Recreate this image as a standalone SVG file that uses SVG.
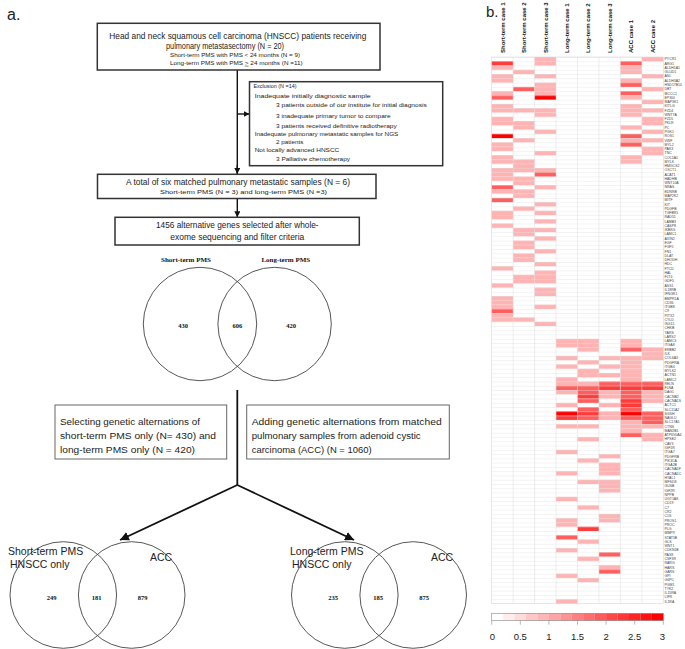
<svg xmlns="http://www.w3.org/2000/svg" width="685" height="649" viewBox="0 0 685 649">
<style>
.box{fill:#fff;stroke:#333;stroke-width:1.5}
.box2{fill:#fff;stroke:#666;stroke-width:1}
.t{font-family:"Liberation Sans",Arial,sans-serif;fill:#222}
.s{font-family:"Liberation Serif","Times New Roman",serif;font-weight:bold;fill:#111}
.ven{fill:none;stroke:#444;stroke-width:0.9}
.con{stroke:#111;stroke-width:1.4;fill:none}
.con2{stroke:#111;stroke-width:1.8;fill:none}
.hm rect{width:21.45px;height:4.27px}
.p{fill:#ffb3b3}.m{fill:#ff5e5e}.r{fill:#ff3c3c}.x{fill:#ff0000}
.gl{font-family:"Liberation Sans",Arial,sans-serif;font-size:3.5px;fill:#444}
.ch{font-family:"Liberation Sans",Arial,sans-serif;font-size:6px;font-weight:bold;fill:#111}
</style>
<defs>
<marker id="ah" viewBox="0 0 10 10" refX="10" refY="5" markerUnits="userSpaceOnUse" markerWidth="6" markerHeight="6" orient="auto"><path d="M0,0 L10,5 L0,10 z" fill="#111"/></marker>
<marker id="ah2" viewBox="0 0 10 10" refX="10" refY="5" markerUnits="userSpaceOnUse" markerWidth="9" markerHeight="9" orient="auto"><path d="M0,0 L10,5 L0,10 z" fill="#111"/></marker>
<pattern id="hg" patternUnits="userSpaceOnUse" x="0" y="57" width="200" height="4.27"><rect width="200" height="0.4" fill="#dcdcdc"/></pattern>
</defs>
<rect width="685" height="649" fill="#fff"/>

<text class="t" x="7" y="20" font-size="16">a.</text>
<text class="t" x="486" y="17" font-size="15">b.</text>

<g id="connectors">
<line class="con" x1="237.3" y1="70" x2="237.3" y2="174"/>
<line class="con" x1="237.3" y1="114" x2="249.5" y2="114" marker-end="url(#ah)"/>
<line class="con" x1="237.3" y1="165" x2="237.3" y2="174" marker-end="url(#ah)"/>
<line class="con" x1="237.3" y1="198.5" x2="237.3" y2="217.3" marker-end="url(#ah)"/>
<line class="con2" x1="237.3" y1="390" x2="237.3" y2="485"/>
<line class="con2" x1="237.3" y1="485" x2="120" y2="540" marker-end="url(#ah2)"/>
<line class="con2" x1="237.3" y1="485" x2="354" y2="540" marker-end="url(#ah2)"/>
</g>

<g id="box1">
<rect class="box" x="97.3" y="23.3" width="282.7" height="46.7"/>
<text class="t" x="109.3" y="38.5" font-size="8.8" textLength="257" lengthAdjust="spacingAndGlyphs">Head and neck squamous cell carcinoma (HNSCC) patients receiving</text>
<text class="t" x="166" y="48.8" font-size="8.8" textLength="118" lengthAdjust="spacingAndGlyphs">pulmonary metastasectomy  (N = 20)</text>
<text class="t" x="170" y="57.2" font-size="5.6" textLength="130" lengthAdjust="spacingAndGlyphs">Short-term PMS with PMS &lt; 24 months (N = 9)</text>
<text class="t" x="170" y="64.8" font-size="5.6" textLength="132.7" lengthAdjust="spacingAndGlyphs">Long-term PMS with PMS <tspan text-decoration="underline">&gt;</tspan> 24 months (N =11)</text>
</g>

<g id="exclusion">
<rect class="box" x="249.5" y="81.7" width="193.2" height="84"/>
<text class="t" x="253.5" y="88" font-size="6" textLength="43" lengthAdjust="spacingAndGlyphs">Exclusion (N =14)</text>
<text class="t" x="254.7" y="97.5" font-size="6" textLength="116" lengthAdjust="spacingAndGlyphs">Inadequate initially diagnostic sample</text>
<text class="t" x="276" y="107" font-size="6" textLength="150.7" lengthAdjust="spacingAndGlyphs">3 patients outside of our institute for initial diagnosis</text>
<text class="t" x="276" y="117.5" font-size="6" textLength="114.7" lengthAdjust="spacingAndGlyphs">3 inadequate primary tumor to compare</text>
<text class="t" x="276" y="127.5" font-size="6" textLength="120.7" lengthAdjust="spacingAndGlyphs">3 patients received definitive radiotherapy</text>
<text class="t" x="254.7" y="135.5" font-size="6" textLength="143.6" lengthAdjust="spacingAndGlyphs">Inadequate pulmonary metastatic samples for NGS</text>
<text class="t" x="276" y="144" font-size="6" textLength="27.3" lengthAdjust="spacingAndGlyphs">2 patients</text>
<text class="t" x="254.7" y="152" font-size="6" textLength="84.6" lengthAdjust="spacingAndGlyphs">Not locally advanced HNSCC</text>
<text class="t" x="276" y="161" font-size="6" textLength="74" lengthAdjust="spacingAndGlyphs">3 Palliative chemotherapy</text>
</g>

<g id="box3">
<rect class="box" x="97.5" y="174.3" width="278.5" height="24.2"/>
<text class="t" x="126" y="185" font-size="8.8" textLength="224" lengthAdjust="spacingAndGlyphs">A total of six matched pulmonary metastatic samples (N = 6)</text>
<text class="t" x="160" y="193.8" font-size="6.2" textLength="167" lengthAdjust="spacingAndGlyphs">Short-term PMS (N = 3) and long-term PMS  (N =3)</text>
</g>

<g id="box4">
<rect class="box" x="115" y="217.3" width="244.3" height="27.7"/>
<text class="t" x="237.3" y="227.8" font-size="8.8" text-anchor="middle" textLength="162.6" lengthAdjust="spacingAndGlyphs">1456 alternative genes selected after whole-</text>
<text class="t" x="237.3" y="240" font-size="8.8" text-anchor="middle" textLength="134" lengthAdjust="spacingAndGlyphs">exome sequencing and filter criteria</text>
</g>

<g id="venn1">
<text class="s" x="186" y="262" font-size="7" text-anchor="middle">Short-term PMS</text>
<text class="s" x="285.8" y="262" font-size="7" text-anchor="middle">Long-term PMS</text>
<circle class="ven" cx="200" cy="324" r="56.7"/>
<circle class="ven" cx="274.6" cy="324" r="56.7"/>
<text class="s" x="183" y="328" font-size="6.5" text-anchor="middle">430</text>
<text class="s" x="237.3" y="328" font-size="6.5" text-anchor="middle">606</text>
<text class="s" x="291" y="328" font-size="6.5" text-anchor="middle">420</text>
</g>

<g id="selecting">
<rect class="box2" x="55" y="405" width="171.7" height="54"/>
<text class="t" x="60" y="424.5" font-size="9.2" textLength="140" lengthAdjust="spacingAndGlyphs">Selecting genetic alternations of</text>
<text class="t" x="60" y="438.5" font-size="9.2" textLength="156" lengthAdjust="spacingAndGlyphs">short-term PMS only (N= 430) and</text>
<text class="t" x="60" y="452.5" font-size="9.2" textLength="135" lengthAdjust="spacingAndGlyphs">long-term PMS only (N = 420)</text>
</g>

<g id="adding">
<rect class="box2" x="246.7" y="405" width="202.6" height="54"/>
<text class="t" x="251.7" y="424.5" font-size="9.2" textLength="190" lengthAdjust="spacingAndGlyphs">Adding genetic alternations from matched</text>
<text class="t" x="251.7" y="438.5" font-size="9.2" textLength="169" lengthAdjust="spacingAndGlyphs">pulmonary samples from adenoid cystic</text>
<text class="t" x="251.7" y="452.5" font-size="9.2" textLength="120" lengthAdjust="spacingAndGlyphs">carcinoma (ACC) (N = 1060)</text>
</g>

<g id="venn2">
<circle class="ven" cx="63.3" cy="595" r="53.3"/>
<circle class="ven" cx="131.7" cy="595" r="53.3"/>
<text class="t" x="8" y="555" font-size="10.5">Short-term PMS</text>
<text class="t" x="10" y="567.5" font-size="10.5">HNSCC only</text>
<text class="t" x="150" y="561" font-size="10.5">ACC</text>
<text class="s" x="51.7" y="599.5" font-size="6.5" text-anchor="middle">249</text>
<text class="s" x="96.7" y="599.5" font-size="6.5" text-anchor="middle">181</text>
<text class="s" x="142.7" y="599.5" font-size="6.5" text-anchor="middle">879</text>
</g>

<g id="venn3">
<circle class="ven" cx="344.8" cy="595" r="53.3"/>
<circle class="ven" cx="413.2" cy="595" r="53.3"/>
<text class="t" x="290" y="555" font-size="10.5">Long-term PMS</text>
<text class="t" x="292" y="567.5" font-size="10.5">HNSCC only</text>
<text class="t" x="431" y="561" font-size="10.5">ACC</text>
<text class="s" x="333.2" y="599.5" font-size="6.5" text-anchor="middle">235</text>
<text class="s" x="378.2" y="599.5" font-size="6.5" text-anchor="middle">185</text>
<text class="s" x="424.2" y="599.5" font-size="6.5" text-anchor="middle">875</text>
</g>

<g id="heatmap">
<rect x="491.7" y="57" width="171.6" height="546.56" fill="#fff"/>
<g class="hm">
<g transform="translate(491.7 0)">
<rect class="r" y="61.27"/><rect class="p" y="65.54"/><rect class="p" y="74.08"/><rect class="p" y="78.35"/><rect class="p" y="91.16"/><rect class="m" y="95.43"/><rect class="p" y="103.97"/><rect class="p" y="108.24"/><rect class="p" y="116.78"/><rect class="p" y="121.05"/><rect class="x" y="133.86"/><rect class="p" y="142.40"/><rect class="p" y="146.67"/><rect class="p" y="155.21"/><rect class="p" y="159.48"/><rect class="p" y="168.02"/><rect class="p" y="172.29"/><rect class="p" y="176.56"/><rect class="m" y="185.10"/><rect class="p" y="189.37"/><rect class="m" y="197.91"/><rect class="p" y="210.72"/><rect class="p" y="214.99"/><rect class="p" y="223.53"/><rect class="p" y="266.23"/><rect class="p" y="283.31"/><rect class="p" y="296.12"/><rect class="p" y="300.39"/><rect class="p" y="304.66"/><rect class="m" y="308.93"/><rect class="p" y="313.20"/><rect class="p" y="317.47"/>
</g>
<g transform="translate(513.15 0)">
<rect class="p" y="69.81"/><rect class="m" y="86.89"/><rect class="p" y="108.24"/><rect class="p" y="121.05"/><rect class="p" y="125.32"/><rect class="p" y="138.13"/><rect class="p" y="159.48"/><rect class="p" y="163.75"/><rect class="p" y="168.02"/><rect class="p" y="176.56"/><rect class="p" y="180.83"/><rect class="p" y="189.37"/><rect class="p" y="193.64"/><rect class="p" y="206.45"/><rect class="p" y="227.80"/><rect class="p" y="232.07"/><rect class="p" y="240.61"/><rect class="p" y="244.88"/><rect class="p" y="253.42"/><rect class="p" y="257.69"/><rect class="p" y="274.77"/><rect class="p" y="279.04"/><rect class="p" y="317.47"/>
</g>
<g transform="translate(534.6 0)">
<rect class="p" y="57.00"/><rect class="p" y="61.27"/><rect class="p" y="74.08"/><rect class="p" y="82.62"/><rect class="p" y="86.89"/><rect class="p" y="91.16"/><rect class="x" y="95.43"/><rect class="p" y="108.24"/><rect class="p" y="112.51"/><rect class="p" y="129.59"/><rect class="p" y="150.94"/><rect class="p" y="168.02"/><rect class="m" y="172.29"/><rect class="p" y="185.10"/><rect class="p" y="202.18"/><rect class="p" y="210.72"/><rect class="p" y="219.26"/><rect class="p" y="227.80"/><rect class="p" y="236.34"/><rect class="p" y="249.15"/><rect class="p" y="261.96"/><rect class="p" y="270.50"/><rect class="p" y="274.77"/><rect class="p" y="279.04"/><rect class="p" y="287.58"/><rect class="p" y="291.85"/><rect class="p" y="304.66"/><rect class="p" y="321.74"/>
</g>
<g transform="translate(556.05 0)">
<rect class="p" y="338.82"/><rect class="p" y="343.09"/><rect class="p" y="355.90"/><rect class="p" y="364.44"/><rect class="p" y="377.25"/><rect class="p" y="381.52"/><rect class="m" y="385.79"/><rect class="p" y="390.06"/><rect class="p" y="402.87"/><rect class="x" y="411.41"/><rect class="r" y="415.68"/><rect class="p" y="424.22"/><rect class="p" y="449.84"/><rect class="p" y="471.19"/><rect class="p" y="496.81"/><rect class="p" y="518.16"/><rect class="p" y="522.43"/><rect class="m" y="535.24"/><rect class="p" y="548.05"/><rect class="p" y="573.67"/><rect class="p" y="599.29"/>
</g>
<g transform="translate(577.5 0)">
<rect class="p" y="338.82"/><rect class="p" y="343.09"/><rect class="p" y="347.36"/><rect class="p" y="360.17"/><rect class="p" y="368.71"/><rect class="p" y="372.98"/><rect class="p" y="381.52"/><rect class="m" y="385.79"/><rect class="m" y="390.06"/><rect class="r" y="394.33"/><rect class="m" y="398.60"/><rect class="m" y="407.14"/><rect class="r" y="411.41"/><rect class="m" y="415.68"/><rect class="p" y="424.22"/><rect class="p" y="437.03"/><rect class="p" y="458.38"/><rect class="p" y="479.73"/><rect class="p" y="505.35"/><rect class="r" y="526.70"/><rect class="p" y="539.51"/><rect class="p" y="556.59"/><rect class="p" y="577.94"/>
</g>
<g transform="translate(598.95 0)">
<rect class="p" y="355.90"/><rect class="p" y="364.44"/><rect class="p" y="372.98"/><rect class="m" y="381.52"/><rect class="r" y="385.79"/><rect class="p" y="390.06"/><rect class="p" y="394.33"/><rect class="p" y="402.87"/><rect class="p" y="411.41"/><rect class="p" y="415.68"/><rect class="p" y="454.11"/><rect class="p" y="462.65"/><rect class="p" y="466.92"/><rect class="p" y="471.19"/><rect class="p" y="479.73"/><rect class="p" y="484.00"/><rect class="p" y="488.27"/><rect class="p" y="513.89"/><rect class="p" y="518.16"/><rect class="m" y="552.32"/><rect class="p" y="565.13"/><rect class="m" y="569.40"/>
</g>
<g transform="translate(620.4 0)">
<rect class="m" y="61.27"/><rect class="p" y="65.54"/><rect class="p" y="69.81"/><rect class="p" y="78.35"/><rect class="m" y="82.62"/><rect class="m" y="91.16"/><rect class="p" y="95.43"/><rect class="p" y="103.97"/><rect class="p" y="108.24"/><rect class="p" y="112.51"/><rect class="p" y="125.32"/><rect class="m" y="133.86"/><rect class="p" y="138.13"/><rect class="m" y="142.40"/><rect class="p" y="155.21"/><rect class="p" y="159.48"/><rect class="p" y="338.82"/><rect class="p" y="343.09"/><rect class="m" y="347.36"/><rect class="p" y="355.90"/><rect class="p" y="360.17"/><rect class="p" y="364.44"/><rect class="p" y="368.71"/><rect class="p" y="372.98"/><rect class="p" y="377.25"/><rect class="m" y="381.52"/><rect class="r" y="385.79"/><rect class="m" y="390.06"/><rect class="m" y="394.33"/><rect class="r" y="398.60"/><rect class="r" y="402.87"/><rect class="m" y="407.14"/><rect class="x" y="411.41"/><rect class="m" y="415.68"/><rect class="p" y="419.95"/><rect class="p" y="424.22"/><rect class="p" y="428.49"/><rect class="m" y="432.76"/>
</g>
<g transform="translate(641.85 0)">
<rect class="p" y="57.00"/><rect class="p" y="74.08"/><rect class="p" y="86.89"/><rect class="p" y="99.70"/><rect class="p" y="108.24"/><rect class="p" y="116.78"/><rect class="p" y="121.05"/><rect class="p" y="129.59"/><rect class="p" y="138.13"/><rect class="p" y="146.67"/><rect class="p" y="150.94"/><rect class="p" y="347.36"/><rect class="p" y="351.63"/><rect class="p" y="355.90"/><rect class="m" y="381.52"/><rect class="r" y="385.79"/><rect class="p" y="390.06"/><rect class="p" y="394.33"/><rect class="p" y="398.60"/><rect class="m" y="411.41"/><rect class="m" y="415.68"/><rect class="m" y="419.95"/><rect class="p" y="424.22"/><rect class="p" y="432.76"/><rect class="p" y="437.03"/>
</g>
</g>
<rect x="491.7" y="57" width="171.6" height="546.56" fill="url(#hg)" opacity="0.8"/>
<path d="M513.15 57V603.56M534.6 57V603.56M556.05 57V603.56M577.5 57V603.56M598.95 57V603.56M620.4 57V603.56M641.85 57V603.56" stroke="#dcdcdc" stroke-width="0.5"/>
<rect x="491.7" y="57" width="171.6" height="546.56" fill="none" stroke="#d0d0d0" stroke-width="0.5"/>
<text class="ch" transform="translate(504.6 53) rotate(-90)">Short-term case 1</text>
<text class="ch" transform="translate(526.1 53) rotate(-90)">Short-term case 2</text>
<text class="ch" transform="translate(547.5 53) rotate(-90)">Short-term case 3</text>
<text class="ch" transform="translate(569 53) rotate(-90)">Long-term case 1</text>
<text class="ch" transform="translate(590.4 53) rotate(-90)">Long-term case 2</text>
<text class="ch" transform="translate(611.9 53) rotate(-90)">Long-term case 3</text>
<text class="ch" transform="translate(633.3 53) rotate(-90)">ACC case 1</text>
<text class="ch" transform="translate(654.8 53) rotate(-90)">ACC case 2</text>
<text class="gl" x="664.5" y="60.4"><tspan x="664.5" dy="0">PYCR1</tspan><tspan x="664.5" dy="4.27">ARG1</tspan><tspan x="664.5" dy="4.27">ALDH1A1</tspan><tspan x="664.5" dy="4.27">GLUD1</tspan><tspan x="664.5" dy="4.27">ASL</tspan><tspan x="664.5" dy="4.27">ALDH3A2</tspan><tspan x="664.5" dy="4.27">HSD17B10</tspan><tspan x="664.5" dy="4.27">DBT</tspan><tspan x="664.5" dy="4.27">MCCC1</tspan><tspan x="664.5" dy="4.27">EP300</tspan><tspan x="664.5" dy="4.27">MAP3K1</tspan><tspan x="664.5" dy="4.27">KITLG</tspan><tspan x="664.5" dy="4.27">FZD4</tspan><tspan x="664.5" dy="4.27">WNT7A</tspan><tspan x="664.5" dy="4.27">FZD5</tspan><tspan x="664.5" dy="4.27">PKLR</tspan><tspan x="664.5" dy="4.27">PC</tspan><tspan x="664.5" dy="4.27">PGK1</tspan><tspan x="664.5" dy="4.27">ROS1</tspan><tspan x="664.5" dy="4.27">VWF</tspan><tspan x="664.5" dy="4.27">MYL2</tspan><tspan x="664.5" dy="4.27">PAK3</tspan><tspan x="664.5" dy="4.27">TNC</tspan><tspan x="664.5" dy="4.27">COL5A1</tspan><tspan x="664.5" dy="4.27">MYLK</tspan><tspan x="664.5" dy="4.27">HMGCS2</tspan><tspan x="664.5" dy="4.27">OXCT1</tspan><tspan x="664.5" dy="4.27">ACAT1</tspan><tspan x="664.5" dy="4.27">HADHB</tspan><tspan x="664.5" dy="4.27">WNT10A</tspan><tspan x="664.5" dy="4.27">NRAS</tspan><tspan x="664.5" dy="4.27">EDNRB</tspan><tspan x="664.5" dy="4.27">MAP2K2</tspan><tspan x="664.5" dy="4.27">MITF</tspan><tspan x="664.5" dy="4.27">KIT</tspan><tspan x="664.5" dy="4.27">PDGFB</tspan><tspan x="664.5" dy="4.27">TGFBR1</tspan><tspan x="664.5" dy="4.27">RAD51</tspan><tspan x="664.5" dy="4.27">LAMB3</tspan><tspan x="664.5" dy="4.27">CASP8</tspan><tspan x="664.5" dy="4.27">IKBKG</tspan><tspan x="664.5" dy="4.27">LAMC1</tspan><tspan x="664.5" dy="4.27">AXIN2</tspan><tspan x="664.5" dy="4.27">EGF</tspan><tspan x="664.5" dy="4.27">FGF5</tspan><tspan x="664.5" dy="4.27">FN1</tspan><tspan x="664.5" dy="4.27">DLAT</tspan><tspan x="664.5" dy="4.27">DHODH</tspan><tspan x="664.5" dy="4.27">HDC</tspan><tspan x="664.5" dy="4.27">FTCD</tspan><tspan x="664.5" dy="4.27">HAL</tspan><tspan x="664.5" dy="4.27">FLT4</tspan><tspan x="664.5" dy="4.27">GDF5</tspan><tspan x="664.5" dy="4.27">ASS1</tspan><tspan x="664.5" dy="4.27">IL18RB</tspan><tspan x="664.5" dy="4.27">IFNGR1</tspan><tspan x="664.5" dy="4.27">BMPR1A</tspan><tspan x="664.5" dy="4.27">CD36</tspan><tspan x="664.5" dy="4.27">ITGB8</tspan><tspan x="664.5" dy="4.27">C9</tspan><tspan x="664.5" dy="4.27">PITX2</tspan><tspan x="664.5" dy="4.27">CYLD</tspan><tspan x="664.5" dy="4.27">ISG15</tspan><tspan x="664.5" dy="4.27">CHKB</tspan><tspan x="664.5" dy="4.27">YARS</tspan><tspan x="664.5" dy="4.27">LARS2</tspan><tspan x="664.5" dy="4.27">LAMC3</tspan><tspan x="664.5" dy="4.27">ITGA8</tspan><tspan x="664.5" dy="4.27">ERBB2</tspan><tspan x="664.5" dy="4.27">ILK</tspan><tspan x="664.5" dy="4.27">COL6A3</tspan><tspan x="664.5" dy="4.27">PDGFRA</tspan><tspan x="664.5" dy="4.27">ITGB4</tspan><tspan x="664.5" dy="4.27">MYLK2</tspan><tspan x="664.5" dy="4.27">ACTN1</tspan><tspan x="664.5" dy="4.27">LAMC2</tspan><tspan x="664.5" dy="4.27">RELN</tspan><tspan x="664.5" dy="4.27">FLNA</tspan><tspan x="664.5" dy="4.27">DAG1</tspan><tspan x="664.5" dy="4.27">CACNB2</tspan><tspan x="664.5" dy="4.27">CACNA1S</tspan><tspan x="664.5" dy="4.27">ACTC1</tspan><tspan x="664.5" dy="4.27">SLC11A2</tspan><tspan x="664.5" dy="4.27">SGSH</tspan><tspan x="664.5" dy="4.27">NAGLU</tspan><tspan x="664.5" dy="4.27">SLC17A5</tspan><tspan x="664.5" dy="4.27">CTNS</tspan><tspan x="664.5" dy="4.27">MAN2B1</tspan><tspan x="664.5" dy="4.27">ATP6V0A4</tspan><tspan x="664.5" dy="4.27">HPSE2</tspan><tspan x="664.5" dy="4.27">CAV3</tspan><tspan x="664.5" dy="4.27">IGF1R</tspan><tspan x="664.5" dy="4.27">ITGA7</tspan><tspan x="664.5" dy="4.27">PDGFRB</tspan><tspan x="664.5" dy="4.27">PIK3CA</tspan><tspan x="664.5" dy="4.27">ITGA2B</tspan><tspan x="664.5" dy="4.27">CACNA1F</tspan><tspan x="664.5" dy="4.27">CACNA1C</tspan><tspan x="664.5" dy="4.27">HYAL1</tspan><tspan x="664.5" dy="4.27">MFSD8</tspan><tspan x="664.5" dy="4.27">GUSB</tspan><tspan x="664.5" dy="4.27">IGF2R</tspan><tspan x="664.5" dy="4.27">NPPB</tspan><tspan x="664.5" dy="4.27">UGT1A8</tspan><tspan x="664.5" dy="4.27">CD19</tspan><tspan x="664.5" dy="4.27">C7</tspan><tspan x="664.5" dy="4.27">CR2</tspan><tspan x="664.5" dy="4.27">C1S</tspan><tspan x="664.5" dy="4.27">PROS1</tspan><tspan x="664.5" dy="4.27">PROC</tspan><tspan x="664.5" dy="4.27">PLG</tspan><tspan x="664.5" dy="4.27">MMP9</tspan><tspan x="664.5" dy="4.27">STAT5B</tspan><tspan x="664.5" dy="4.27">GLS</tspan><tspan x="664.5" dy="4.27">WNT1</tspan><tspan x="664.5" dy="4.27">CDKN1B</tspan><tspan x="664.5" dy="4.27">PAX8</tspan><tspan x="664.5" dy="4.27">CSF3R</tspan><tspan x="664.5" dy="4.27">RARG</tspan><tspan x="664.5" dy="4.27">HARS</tspan><tspan x="664.5" dy="4.27">GARS</tspan><tspan x="664.5" dy="4.27">GPI</tspan><tspan x="664.5" dy="4.27">G6PC</tspan><tspan x="664.5" dy="4.27">PGM1</tspan><tspan x="664.5" dy="4.27">TYK2</tspan><tspan x="664.5" dy="4.27">IL15RA</tspan><tspan x="664.5" dy="4.27">LIFR</tspan><tspan x="664.5" dy="4.27">IL1RA</tspan></text>
</g>

<g id="legend">
<rect x="491.7" y="613.3" width="11.44" height="7.4" fill="#ffffff"/>
<rect x="503.14" y="613.3" width="11.44" height="7.4" fill="#ffeded"/>
<rect x="514.58" y="613.3" width="11.44" height="7.4" fill="#ffdbdb"/>
<rect x="526.02" y="613.3" width="11.44" height="7.4" fill="#ffc8c8"/>
<rect x="537.46" y="613.3" width="11.44" height="7.4" fill="#ffb6b6"/>
<rect x="548.9" y="613.3" width="11.44" height="7.4" fill="#ffa4a4"/>
<rect x="560.34" y="613.3" width="11.44" height="7.4" fill="#ff9292"/>
<rect x="571.78" y="613.3" width="11.44" height="7.4" fill="#ff8080"/>
<rect x="583.22" y="613.3" width="11.44" height="7.4" fill="#ff6d6d"/>
<rect x="594.66" y="613.3" width="11.44" height="7.4" fill="#ff5b5b"/>
<rect x="606.1" y="613.3" width="11.44" height="7.4" fill="#ff4949"/>
<rect x="617.54" y="613.3" width="11.44" height="7.4" fill="#ff3737"/>
<rect x="628.98" y="613.3" width="11.44" height="7.4" fill="#ff2424"/>
<rect x="640.42" y="613.3" width="11.44" height="7.4" fill="#ff1212"/>
<rect x="651.86" y="613.3" width="11.44" height="7.4" fill="#ff0000"/>
<rect x="491.7" y="613.3" width="171.6" height="7.4" fill="none" stroke="#888" stroke-width="0.6"/>
<path d="M491.7 620.7v4M520.3 620.7v4M548.9 620.7v4M577.5 620.7v4M606.1 620.7v4M634.7 620.7v4M663.3 620.7v4" stroke="#888" stroke-width="0.6"/>
<g class="t" font-size="9.5" text-anchor="middle" fill="#333">
<text x="492.5" y="640">0</text>
<text x="520.3" y="640">0.5</text>
<text x="548.9" y="640">1</text>
<text x="577.5" y="640">1.5</text>
<text x="606.1" y="640">2</text>
<text x="634.7" y="640">2.5</text>
<text x="662.5" y="640">3</text>
</g>
</g>
</svg>
